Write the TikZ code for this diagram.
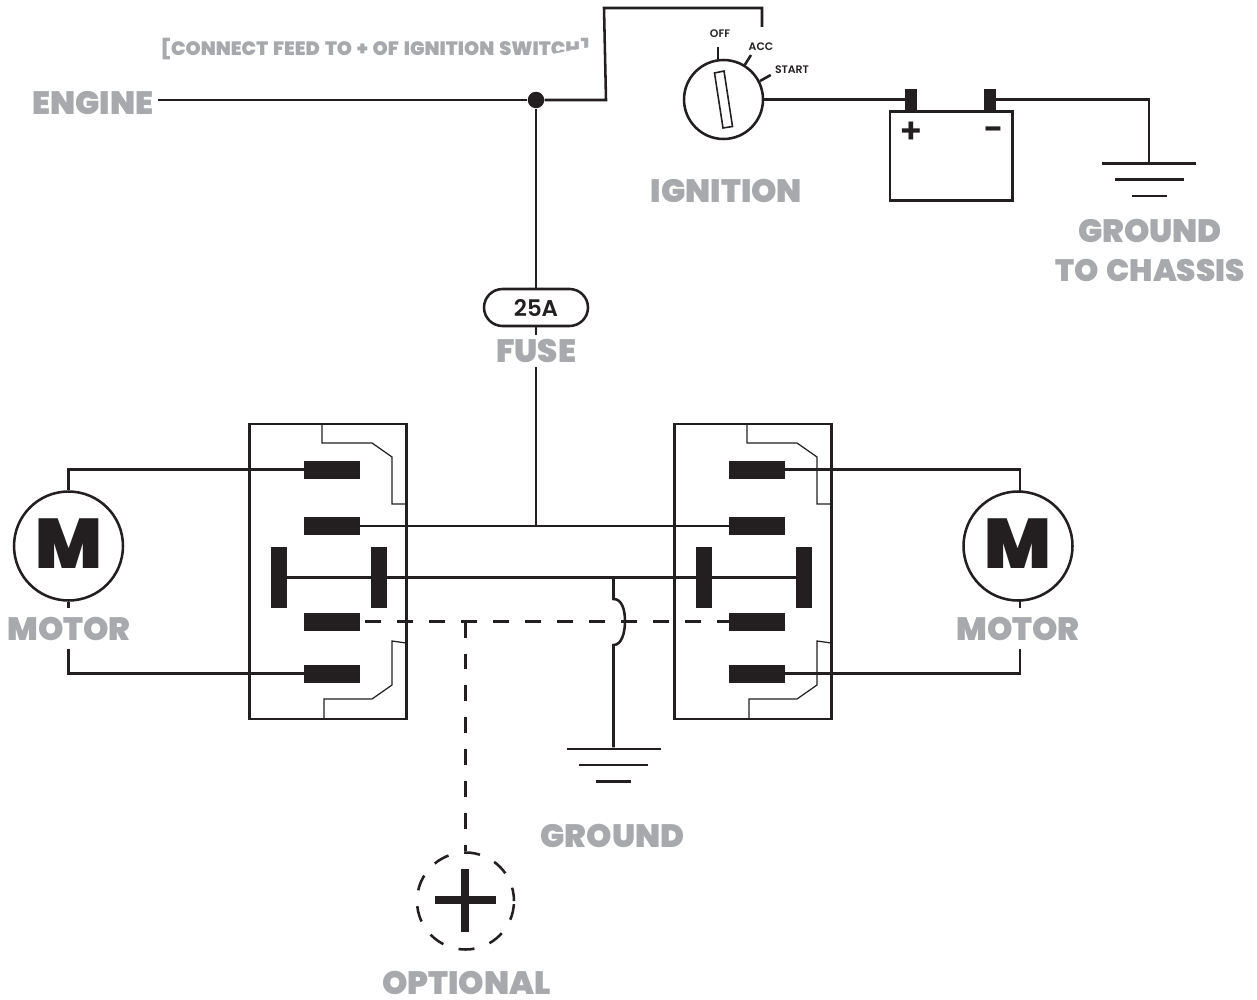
\documentclass[tikz,border=0pt]{standalone}
\usepackage{fontspec}
\setmainfont{Poppins SemiBold}
\newfontfamily\labelfont{Poppins Black}
\newfontfamily\notefont[WordSpace=1.5]{Poppins Black}
\newfontfamily\signfont{Poppins SemiBold}
\definecolor{labelgray}{RGB}{167,169,172}
\definecolor{inkblack}{RGB}{35,31,32}
\tikzset{
  wire/.style={draw=inkblack, line width=1.45pt},
  thinwire/.style={draw=inkblack, line width=0.7pt},
  dashwire/.style={draw=inkblack, line width=1.45pt, dash pattern=on 0.32cm off 0.32cm},
  pinh/.style={fill=inkblack, inner sep=0pt, minimum width=1.12cm, minimum height=0.36cm},
  pinv/.style={fill=inkblack, inner sep=0pt, minimum width=0.32cm, minimum height=1.24cm},
  post/.style={fill=inkblack, inner sep=0pt, minimum width=0.24cm, minimum height=0.42cm},
  groundbar/.style={fill=inkblack, inner sep=0pt, minimum height=0.05cm},
  boxframe/.style={draw=inkblack, line width=1.6pt, inner sep=0pt, minimum width=3.14cm, minimum height=5.9cm},
  motorring/.style={circle, draw=inkblack, line width=1.45pt, inner sep=0pt, minimum size=2.18cm, text depth=0.08cm,
    text=inkblack, font=\labelfont\fontsize{40}{40}\selectfont},
  graylabel/.style={text=labelgray, font=\labelfont\fontsize{18.4}{20}\selectfont, inner sep=1pt},
  gaplabel/.style={graylabel, fill=white, inner sep=0pt},
  smalllabel/.style={text=inkblack, font=\fontsize{6.2}{7}\selectfont, inner sep=0pt}
}
\begin{document}
\begin{tikzpicture}[x=0.02cm,y=-0.02cm]
 \useasboundingbox (0,0) rectangle (1257,1000);

 % feed note, its end is cut away
 \node[graylabel, font=\notefont\fontsize{11}{14}\selectfont] (feednote) at (375.5,49.5) {[CONNECT FEED TO + OF IGNITION SWITCH]};
 \fill[white] (533,57.5) -- (593,46.5) -- (600,46.5) -- (600,62) -- (533,62) -- cycle;

 \node[graylabel] (engine) at (93,103) {ENGINE};
 \node[graylabel] (ignlabel) at (726.5,191) {IGNITION};
 \node[graylabel] (gndtop) at (1150,231) {GROUND};
 \node[graylabel, font=\labelfont\fontsize{17.6}{20}\selectfont] (chassis) at (1150,270) {TO CHASSIS};
 \node[graylabel] (gndlabel) at (612.5,836) {GROUND};
 \node[graylabel] (optlabel) at (466.5,983) {OPTIONAL};

 % switch boxes
 \node[boxframe] (lbox) at (328,571.5) {};
 \node[boxframe] (rbox) at (753,571.5) {};
 \foreach \dx in {0,425} {
   \draw[thinwire] (322+\dx,424) -- (322+\dx,443) -- (372+\dx,443) -- (392+\dx,457) -- (392+\dx,504) -- (406+\dx,504);
   \draw[thinwire] (406+\dx,643) -- (392+\dx,641) -- (392+\dx,685) -- (372+\dx,699) -- (324+\dx,699) -- (324+\dx,719);
 }

 \node[motorring] (lmotor) at (68.5,546) {M};
 \node[motorring] (rmotor) at (1018,546) {M};

 \node[circle, draw=inkblack, line width=1.45pt, dash pattern=on 0.32cm off 0.32cm, dash phase=0.05cm,
   inner sep=0pt, minimum size=1.94cm] (optional) at (465.5,901) {};
 \draw[draw=inkblack, line width=4pt] (435,900) -- (495.5,900);
 \draw[draw=inkblack, line width=4pt] (465,869) -- (465,932);

 % pins and bars
 \foreach \s/\dx in {l/0, r/425} {
   \node[pinh] (\s a) at (332+\dx,469.5) {};
   \node[pinh] (\s b) at (332+\dx,526) {};
   \node[pinh] (\s c) at (332+\dx,621.5) {};
   \node[pinh] (\s d) at (332+\dx,673.5) {};
   \node[pinv] (\s barl) at (279+\dx,577.5) {};
   \node[pinv] (\s barr) at (379+\dx,577.5) {};
 }

 % ground symbols
 \foreach \g/\x/\y in {c/1149/163.3, m/613.5/749} {
   \node[groundbar, minimum width=1.88cm] (\g gnda) at (\x,\y) {};
   \node[groundbar, minimum width=1.38cm] (\g gndb) at (\x,\y+16.2) {};
   \node[groundbar, minimum width=0.70cm] (\g gndc) at (\x,\y+32.6) {};
 }

 % battery
 \node[draw=inkblack, line width=1.6pt, inner sep=0pt, minimum width=2.45cm, minimum height=1.78cm] (battery) at (951.3,156.3) {};
 \node[post] (bplus) at (911,99.5) {};
 \node[post] (bminus) at (990,99.5) {};
 \node[inkblack, inner sep=0pt, font=\signfont\fontsize{20}{20}\selectfont] (plussign) at (911.5,133) {+};
 \node[inkblack, inner sep=0pt, font=\signfont\fontsize{20}{20}\selectfont] (minussign) at (993,134.5) {−};

 % ignition
 \node[circle, draw=inkblack, line width=1.45pt, inner sep=0pt, minimum size=1.58cm] (ignition) at (723.5,99.5) {};
 \draw[draw=inkblack, line width=0.9pt] (714.5,73) -- (724,71) -- (732.5,126.5) -- (723,128) -- cycle;
 \node[smalllabel] (off) at (720,33.3) {OFF};
 \node[smalllabel] (acc) at (761,46.7) {ACC};
 \node[smalllabel] (start) at (792,70) {START};
 \draw[wire] (718,47) -- (718,60);
 \draw[wire] (744.7,65) -- (751,55);
 \draw[wire] (760,81) -- (770.7,75);

 \node[circle, fill=inkblack, inner sep=0pt, minimum size=0.33cm] (junction) at (536,100) {};

 \coordinate (feedbend) at (606,100);
 \coordinate (feedtop) at (604,8);
 \coordinate (accend) at (762,27);
 \coordinate (feedtap) at (536,526);
 \coordinate (groundtap) at (613.5,577.5);
 \coordinate (optionaltap) at (465.5,621.5);

 % lines
 \draw[wire] ([xshift=0.05cm]engine.east |- junction) -- (junction);
 \draw[wire] (junction) -- (feedbend) -- (feedtop) -- (accend |- feedtop) -- (accend);
 \draw[wire] (junction) -- (feedtap);
 \draw[wire] (lb.east) -- (rb.west);
 \draw[wire] (lbarl) -- (lbarr) -- (rbarl) -- (rbarr);
 \draw[wire] (la.west) -| (lmotor.north);
 \draw[wire] (ld.west) -| (lmotor.south);
 \draw[wire] (ra.east) -| (1020,492);
 \draw[wire] (rd.east) -| (1020,600);
 \draw[wire] (ignition.east) -- (bplus.west);
 \draw[wire] (bminus.east) -| (cgnda.north);
 \draw[wire] (groundtap) -- (613.5,599) .. controls (622,599) and (625,610) .. (625,621) .. controls (625,632) and (622,645) .. (613.5,645) -- (mgnda.north);

 \draw[dashwire, dash phase=0.54cm] (lc.east) -- (rc.west);
 \draw[dashwire] (optionaltap) -- (optional.north);

 % these sit on their wires
 \node[gaplabel, minimum height=0.82cm] (lmotorlabel) at (69,628.5) {MOTOR};
 \node[gaplabel, minimum height=0.82cm] (rmotorlabel) at (1018,628.5) {MOTOR};
 \node[gaplabel, minimum height=0.64cm] (fuselabel) at (536,351) {FUSE};
 \node[draw=inkblack, fill=white, line width=1.45pt, rounded corners=0.37cm, inner sep=0pt, minimum width=2.08cm, minimum height=0.74cm,
   text=inkblack, font=\fontsize{13}{13}\selectfont] (fuse) at (536,307.5) {25A};

\end{tikzpicture}
\end{document}
